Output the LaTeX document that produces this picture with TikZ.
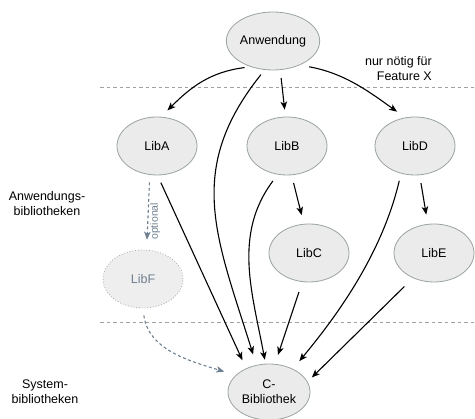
\documentclass[tikz,border=0pt]{standalone}
\usepackage{fontspec}
\setmainfont{Liberation Sans}
\usetikzlibrary{arrows.meta,shapes.geometric}

\definecolor{nodefill}{HTML}{EBEBEB}
\definecolor{nodeline}{HTML}{9AA39F}
\definecolor{sepline}{HTML}{A0A0A0}
\definecolor{optcol}{HTML}{6F8090}
\definecolor{optfill}{HTML}{EEEEEE}
\definecolor{optline}{HTML}{A8A8A8}

\begin{document}
\begin{tikzpicture}[x=1pt,y=-1pt,
  font=\fontsize{12.5}{15}\selectfont,
  lib/.style={ellipse, draw=nodeline, fill=nodefill, line width=0.8pt,
    minimum width=80pt, minimum height=58pt, inner sep=0pt, align=center},
  optlib/.style={lib, draw=optline, fill=optfill, dotted, text=optcol},
  tip/.tip={Stealth[length=8pt,width=6.5pt,inset=2pt]},
  dep/.style={draw=black, line width=1.1pt, -tip},
  optdep/.style={draw=optcol, line width=1.1pt, dash pattern=on 3pt off 2.5pt, -tip},
  layer/.style={draw=sepline, line width=1pt, dash pattern=on 3.5pt off 3pt},
  note/.style={align=center, inner sep=0pt}
]
\useasboundingbox (0,0) rectangle (475,419);

% layer separators
\coordinate (sepAL) at (100,88);
\coordinate (sepAR) at (475,88);
\coordinate (sepBL) at (100,323);
\coordinate (sepBR) at (475,323);
\draw[layer] (sepAL) -- (sepAR);
\draw[layer] (sepBL) -- (sepBR);

% layer captions
\node[note] (capApp) at (47,204) {Anwendungs-\\bibliotheken};
\node[note] (capSys) at (45,392) {System-\\bibliotheken};
\node[note, align=right, anchor=east] (capX) at (432,69) {nur nötig für\\Feature X};

% components
\node[lib] (anw)  at (273,41)  {Anwendung};
\node[lib] (libA) at (157,146) {LibA};
\node[lib] (libB) at (287,146) {LibB};
\node[lib] (libD) at (415,146) {LibD};
\node[lib] (libC) at (309,253) {LibC};
\node[lib] (libE) at (434,253) {LibE};
\node[optlib] (libF) at (143,279) {LibF};
\node[lib, minimum width=82pt, minimum height=56pt] (cbib) at (269,392) {C-\\Bibliothek};

% dependencies of the application
\draw[dep, shorten <=6pt, shorten >=9pt] (anw.229) .. controls +(-40,5) and +(30,-30) .. (libA.82);
\draw[dep, shorten <=8pt, shorten >=7pt] (anw.284) -- (libB.93);
\draw[dep, shorten <=9.5pt, shorten >=10pt] (anw.318) .. controls +(45,8) and +(-35,-25) .. (libD.109);
\draw[dep, shorten <=6pt, shorten >=11pt] (anw.254) .. controls +(-80,100) and +(-40,-128) .. (cbib.115);

% dependencies between libraries
\draw[dep, shorten <=8pt, shorten >=9pt] (libA.271) -- (cbib.134);
\draw[dep, shorten <=8pt, shorten >=4pt] (libB.252) .. controls +(-45,60) and +(-13,-70) .. (cbib.97);
\draw[dep, shorten <=8pt, shorten >=9pt] (libB.279) -- (libC.100);
\draw[dep, shorten <=8pt, shorten >=9.5pt] (libD.279) -- (libE.102);
\draw[dep, shorten <=7.5pt, shorten >=10pt] (libD.243) .. controls +(-20,85) and +(38,-46) .. (cbib.44);
\draw[dep, shorten <=10.5pt, shorten >=9.5pt] (libC.257) -- (cbib.78);
\draw[dep, shorten <=12pt, shorten >=6pt] (libE.230) -- (cbib.15);

% optional library
\draw[optdep, shorten <=7.5pt, shorten >=10pt] (libA.256) -- node[pos=0.62, anchor=north, rotate=90, inner sep=2pt,
  text=optcol, font=\fontsize{10.5}{12}\selectfont] (optLbl) {optional} (libF.83);
\draw[optdep, shorten <=7pt, shorten >=12pt] (libF.270) .. controls +(5,40) and +(-50,-15) .. (cbib.153);
\end{tikzpicture}
\end{document}
